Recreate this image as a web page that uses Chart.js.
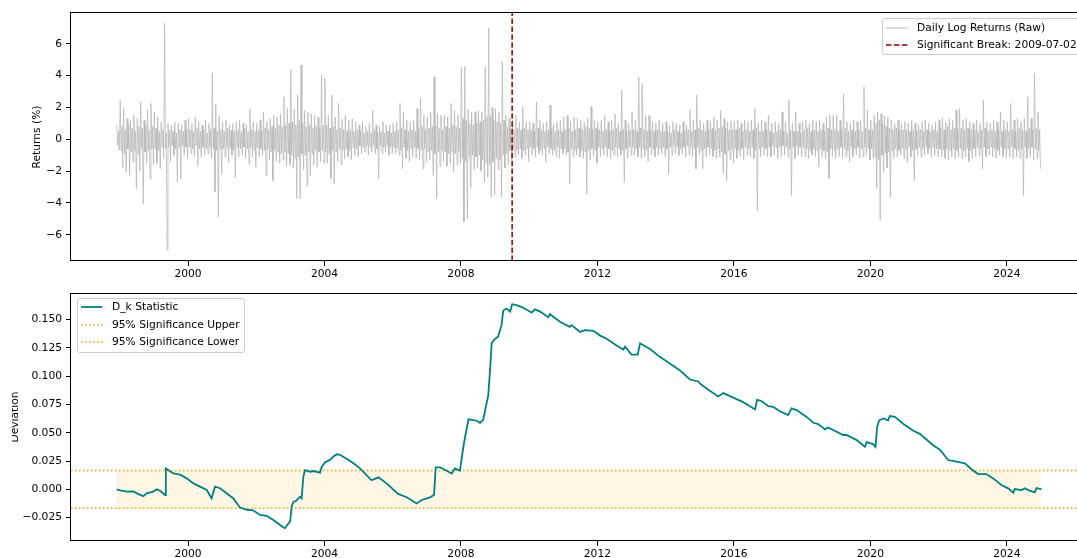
<!DOCTYPE html>
<html>
<head>
<meta charset="utf-8">
<script src="https://cdn.jsdelivr.net/npm/chart.js@4.4.1/dist/chart.umd.min.js"></script>
<style>
html,body{margin:0;padding:0;background:#fff;}
#wrap{position:relative;width:1077px;height:558px;overflow:hidden;font-family:'DejaVu Sans',sans-serif;color:#000;}
#wrap canvas{position:absolute;left:0;}
.ylab{position:absolute;transform:translate(-50%,-50%) rotate(-90deg);font-size:10.7px;line-height:12px;white-space:nowrap;}
.clip{position:absolute;overflow:hidden;}
.legend{position:absolute;background:rgba(255,255,255,0.8);border:1px solid #cccccc;border-radius:3px;box-sizing:border-box;}
.litem{position:absolute;font-size:10.7px;line-height:12px;white-space:nowrap;}
.lsample{position:absolute;}
</style>
</head>
<body>
<div id="wrap">
  <canvas id="topChart" width="1100" height="280" style="top:0;width:1100px;height:280px;"></canvas>
  <canvas id="botChart" width="1100" height="278" style="top:280px;width:1100px;height:278px;"></canvas>
  <div class="ylab" id="ylabTop" style="left:36.9px;top:136.5px;">Returns (%)</div>
  <div class="clip" style="left:12px;top:360px;width:30px;height:120px;">
    <div class="ylab" id="ylabBot" style="left:3.3px;top:57px;">Deviation</div>
  </div>
</div>
<script>
// ---------------- data ----------------
const xTicks = [2000, 2004, 2008, 2012, 2016, 2020, 2024];
const retTicks = [-6, -4, -2, 0, 2, 4, 6];
const devTicks = [-0.025, 0, 0.025, 0.05, 0.075, 0.1, 0.125, 0.15];

const breakDate = '2009-07-02';
const breakYear = 2009.50;
const sigUpper = 0.0167;
const sigLower = -0.0167;

// daily log returns (%), read per 0.1-year bin (first bin starts 1997.9):
// retHi / retLo = largest up / down move in the bin, retHi2 / retLo2 = edge of the dense band in the bin
const retStartYear = 1997.9;
const retBinYears = 0.1;
const retHi = [
  0.9,
  2.46, 1.93, 1.3, 1.2, 1.5, 1.3, 2.35, 1.2, 1.83, 2.25,
  1.72, 1.4, 1.1, 7.3, 1.0, 0.9, 1.1, 1.0, 0.9, 1.2,
  1.3, 1.0, 1.4, 1.1, 0.9, 1.2, 1.0, 4.14, 2.2, 1.5,
  1.1, 1.2, 0.9, 1.0, 1.1, 1.2, 1.0, 0.9, 1.9, 1.1,
  1.0, 1.2, 1.7, 1.1, 1.3, 1.5, 1.4, 1.6, 2.67, 1.93,
  4.35, 1.9, 2.78, 4.67, 1.8, 1.7, 1.6, 1.5, 1.4, 4.04,
  3.83, 1.5, 2.78, 1.4, 2.25, 1.3, 1.5, 1.2, 1.3, 1.1,
  0.9, 1.1, 0.8, 1.0, 1.83, 0.9, 0.8, 1.1, 0.9, 0.9,
  1.0, 1.1, 2.25, 1.72, 1.2, 1.1, 1.2, 1.93, 2.57, 1.5,
  1.4, 1.72, 3.93, 1.6, 1.5, 1.5, 1.4, 2.25, 1.83, 1.5,
  4.56, 4.56, 1.9, 1.7, 1.72, 1.8, 1.72, 4.56, 6.98, 2.0,
  1.93, 1.7, 4.88, 1.5, 1.3, 1.2, 1.5, 1.1, 2.04, 1.1,
  1.1, 1.0, 2.35, 1.2, 1.0, 1.1, 2.15, 1.0, 1.1, 1.2,
  1.4, 1.5, 1.1, 1.4, 1.3, 1.2, 1.1, 1.3, 2.04, 1.2,
  1.1, 1.2, 1.5, 1.1, 1.2, 1.6, 1.0, 3.09, 1.2, 1.0,
  1.72, 1.2, 3.93, 3.5, 1.5, 1.5, 1.1, 1.0, 1.2, 1.0,
  1.1, 0.9, 1.1, 1.0, 0.9, 1.1, 0.9, 1.83, 1.2, 2.78,
  1.2, 1.0, 1.2, 1.1, 1.4, 1.2, 1.83, 1.3, 1.1, 1.1,
  1.1, 1.2, 1.0, 1.2, 1.1, 1.2, 1.93, 1.0, 1.2, 1.1,
  1.5, 1.0, 1.1, 1.0, 1.72, 1.1, 2.46, 1.0, 1.72, 1.0,
  1.1, 1.2, 1.0, 1.2, 1.1, 1.2, 1.0, 1.4, 1.5, 1.5,
  1.5, 1.2, 2.88, 1.1, 1.0, 1.2, 1.1, 1.2, 3.3, 1.83,
  1.2, 1.5, 1.72, 1.6, 1.5, 1.4, 1.2, 1.0, 1.2, 1.0,
  1.1, 1.0, 1.2, 1.0, 0.9, 1.1, 1.2, 1.0, 0.9, 1.1,
  1.2, 1.3, 1.1, 1.3, 1.2, 1.83, 1.93, 1.2, 1.3, 1.1,
  1.0, 1.2, 1.0, 2.46, 1.1, 1.0, 1.2, 1.1, 1.72, 1.2,
  1.1, 2.25, 1.2, 1.3, 1.1, 1.3, 2.67, 1.3, 4.14, 1.73
];
const retLo = [
  -0.7,
  -1.75, -2.06, -2.27, -1.4, -3.1, -2.0, -4.06, -1.5, -2.5, -1.6,
  -1.5, -1.85, -1.2, -6.95, -1.4, -1.0, -2.7, -2.5, -1.0, -1.2,
  -0.9, -1.1, -1.65, -1.1, -1.0, -0.9, -1.2, -3.3, -4.9, -2.2,
  -1.1, -1.4, -1.0, -2.4, -1.1, -1.0, -1.2, -1.55, -1.1, -1.75,
  -1.1, -1.0, -2.3, -1.3, -2.6, -1.4, -1.5, -1.3, -1.7, -1.6,
  -1.8, -3.74, -3.74, -1.9, -2.9, -2.28, -1.6, -1.74, -1.4, -1.5,
  -1.5, -2.48, -2.8, -1.4, -1.6, -1.2, -1.1, -1.3, -1.0, -1.1,
  -0.9, -0.8, -1.0, -0.8, -0.9, -2.48, -0.9, -0.8, -1.0, -0.9,
  -0.9, -1.0, -1.85, -1.2, -1.4, -1.1, -1.2, -1.3, -1.85, -1.4,
  -1.3, -2.27, -3.74, -1.7, -1.4, -1.7, -1.5, -2.06, -1.6, -1.5,
  -5.2, -5.0, -3.1, -1.9, -1.8, -2.0, -2.7, -2.4, -3.64, -3.5,
  -1.9, -3.64, -1.8, -1.6, -1.3, -1.1, -1.0, -1.2, -1.0, -1.4,
  -1.0, -1.1, -0.9, -1.0, -1.4, -0.9, -1.0, -1.1, -1.2, -0.9,
  -1.0, -2.8, -1.1, -1.0, -1.1, -1.2, -3.43, -1.3, -1.1, -1.5,
  -1.1, -1.0, -1.1, -1.2, -1.0, -1.1, -1.0, -2.7, -1.2, -1.0,
  -1.0, -1.1, -1.2, -1.1, -1.4, -1.0, -1.1, -1.0, -0.9, -1.1,
  -2.17, -1.0, -0.9, -1.0, -0.9, -1.1, -1.0, -1.1, -1.85, -1.0,
  -1.85, -1.1, -1.0, -1.1, -1.2, -1.1, -2.17, -2.6, -1.3, -1.5,
  -1.2, -1.1, -1.3, -1.0, -1.1, -1.2, -4.48, -1.1, -1.0, -1.1,
  -1.1, -1.0, -1.2, -1.1, -1.0, -1.1, -3.53, -1.2, -1.0, -1.1,
  -1.1, -1.2, -1.0, -1.1, -1.74, -1.1, -1.2, -2.48, -1.1, -1.2,
  -1.1, -1.2, -1.1, -1.4, -1.1, -1.0, -1.2, -1.1, -1.0, -1.3,
  -1.2, -3.1, -5.1, -2.06, -1.8, -3.64, -1.2, -1.1, -1.0, -1.2,
  -1.4, -1.1, -2.6, -1.0, -1.1, -1.0, -0.9, -1.1, -1.0, -1.1,
  -1.1, -1.2, -1.3, -1.1, -1.2, -1.1, -1.2, -1.1, -1.4, -1.2,
  -1.1, -1.0, -1.85, -1.1, -1.0, -1.1, -1.2, -1.0, -1.1, -1.2,
  -1.1, -1.2, -1.1, -1.2, -3.53, -1.2, -1.1, -1.3, -1.2, -1.85
];
const retHi2 = [
  0.5,
  0.8, 0.6, 0.9, 0.7, 0.5, 0.8, 0.7, 0.9, 0.6, 0.8,
  0.7, 0.5, 0.6, 0.4, 0.6, 0.5, 0.4, 0.6, 0.5, 0.6,
  0.6, 0.5, 0.7, 0.5, 0.6, 0.4, 0.6, 0.7, 0.5, 0.6,
  0.5, 0.7, 0.6, 0.5, 0.6, 0.5, 0.7, 0.5, 0.6, 0.5,
  0.6, 0.5, 0.7, 0.6, 0.8, 0.7, 0.9, 0.8, 0.9, 1.0,
  1.1, 0.9, 1.2, 1.0, 0.8, 0.9, 0.7, 0.8, 0.7, 0.9,
  0.9, 0.7, 0.8, 0.6, 0.7, 0.6, 0.5, 0.6, 0.5, 0.6,
  0.5, 0.4, 0.5, 0.4, 0.6, 0.4, 0.5, 0.4, 0.5, 0.4,
  0.5, 0.6, 0.7, 0.6, 0.5, 0.6, 0.5, 0.7, 0.8, 0.6,
  0.7, 0.8, 0.9, 0.7, 0.6, 0.8, 0.7, 0.9, 0.8, 0.7,
  1.3, 1.2, 1.0, 0.9, 1.0, 1.1, 1.2, 1.4, 1.5, 1.2,
  1.1, 1.0, 1.2, 0.8, 0.7, 0.6, 0.7, 0.6, 0.7, 0.6,
  0.6, 0.5, 0.7, 0.6, 0.5, 0.6, 0.7, 0.5, 0.6, 0.5,
  0.6, 0.7, 0.5, 0.6, 0.7, 0.6, 0.8, 0.7, 0.6, 0.7,
  0.6, 0.5, 0.6, 0.5, 0.6, 0.7, 0.5, 0.6, 0.5, 0.6,
  0.6, 0.5, 0.7, 0.6, 0.5, 0.6, 0.5, 0.6, 0.5, 0.5,
  0.5, 0.4, 0.6, 0.5, 0.4, 0.5, 0.6, 0.5, 0.6, 0.7,
  0.6, 0.5, 0.6, 0.7, 0.6, 0.7, 0.8, 0.7, 0.6, 0.6,
  0.6, 0.7, 0.5, 0.6, 0.5, 0.6, 0.7, 0.5, 0.5, 0.6,
  0.5, 0.4, 0.5, 0.6, 0.5, 0.4, 0.6, 0.5, 0.5, 0.4,
  0.6, 0.7, 0.5, 0.6, 0.5, 0.6, 0.5, 0.7, 0.6, 0.6,
  0.5, 0.6, 0.7, 0.5, 0.6, 0.5, 0.6, 0.5, 0.7, 0.6,
  0.6, 1.0, 1.2, 1.0, 0.8, 0.7, 0.6, 0.7, 0.6, 0.6,
  0.6, 0.5, 0.6, 0.5, 0.6, 0.5, 0.6, 0.5, 0.6, 0.5,
  0.7, 0.6, 0.8, 0.6, 0.7, 0.6, 0.7, 0.6, 0.7, 0.6,
  0.6, 0.5, 0.6, 0.7, 0.5, 0.6, 0.5, 0.6, 0.5, 0.6,
  0.5, 0.6, 0.5, 0.7, 0.6, 0.5, 0.7, 0.6, 0.7, 0.6
];
const retLo2 = [
  -0.4,
  -0.7, -0.9, -0.6, -0.8, -0.7, -0.9, -0.6, -0.8, -0.7, -0.6,
  -0.6, -0.7, -0.5, -0.6, -0.5, -0.4, -0.6, -0.5, -0.4, -0.5,
  -0.5, -0.6, -0.4, -0.6, -0.5, -0.6, -0.5, -0.6, -0.7, -0.6,
  -0.6, -0.5, -0.6, -0.7, -0.5, -0.6, -0.5, -0.6, -0.5, -0.7,
  -0.5, -0.6, -0.7, -0.6, -0.8, -0.7, -0.8, -0.9, -0.8, -0.9,
  -1.0, -1.2, -1.1, -0.9, -1.0, -0.8, -0.9, -0.7, -0.8, -0.7,
  -0.8, -0.9, -0.7, -0.8, -0.6, -0.7, -0.6, -0.7, -0.5, -0.6,
  -0.4, -0.5, -0.4, -0.5, -0.4, -0.6, -0.4, -0.5, -0.4, -0.5,
  -0.5, -0.6, -0.7, -0.5, -0.7, -0.6, -0.5, -0.6, -0.7, -0.6,
  -0.8, -0.7, -0.9, -0.8, -0.7, -0.8, -0.9, -0.8, -0.9, -0.8,
  -1.2, -1.4, -1.1, -1.0, -1.1, -1.0, -1.3, -1.5, -1.6, -1.4,
  -1.2, -1.3, -1.0, -0.9, -0.7, -0.6, -0.7, -0.6, -0.7, -0.6,
  -0.5, -0.6, -0.5, -0.7, -0.6, -0.5, -0.6, -0.7, -0.5, -0.6,
  -0.6, -0.8, -0.6, -0.7, -0.6, -0.7, -0.8, -0.7, -0.6, -0.7,
  -0.5, -0.6, -0.5, -0.6, -0.7, -0.5, -0.6, -0.7, -0.6, -0.5,
  -0.5, -0.6, -0.5, -0.6, -0.7, -0.5, -0.6, -0.5, -0.6, -0.5,
  -0.6, -0.5, -0.4, -0.5, -0.6, -0.5, -0.4, -0.5, -0.6, -0.5,
  -0.7, -0.6, -0.5, -0.6, -0.7, -0.6, -0.8, -0.9, -0.7, -0.6,
  -0.6, -0.7, -0.6, -0.5, -0.6, -0.5, -0.7, -0.6, -0.5, -0.6,
  -0.5, -0.4, -0.5, -0.5, -0.4, -0.5, -0.6, -0.5, -0.4, -0.5,
  -0.5, -0.6, -0.7, -0.6, -0.7, -0.6, -0.7, -0.8, -0.6, -0.7,
  -0.6, -0.5, -0.6, -0.7, -0.5, -0.6, -0.5, -0.6, -0.5, -0.6,
  -0.6, -1.1, -1.3, -1.0, -0.9, -0.8, -0.7, -0.6, -0.7, -0.6,
  -0.6, -0.5, -0.7, -0.6, -0.5, -0.6, -0.5, -0.6, -0.5, -0.6,
  -0.6, -0.7, -0.6, -0.7, -0.6, -0.7, -0.6, -0.7, -0.6, -0.7,
  -0.6, -0.5, -0.6, -0.5, -0.6, -0.5, -0.6, -0.7, -0.5, -0.6,
  -0.6, -0.5, -0.6, -0.7, -0.6, -0.5, -0.6, -0.5, -0.6, -0.7
];

// D_k statistic
const dkYears = [
  1997.91, 1998.01, 1998.20, 1998.40, 1998.50, 1998.69, 1998.79, 1998.98, 1999.08, 1999.18,
  1999.33, 1999.35, 1999.57, 1999.77, 1999.96, 2000.16, 2000.35, 2000.55, 2000.69, 2000.79,
  2000.94, 2001.13, 2001.33, 2001.52, 2001.72, 2001.91, 2002.11, 2002.31, 2002.50, 2002.70,
  2002.84, 2002.91, 2002.99, 2003.04, 2003.09, 2003.18, 2003.28, 2003.33, 2003.38, 2003.43,
  2003.58, 2003.67, 2003.87, 2003.92, 2004.02, 2004.16, 2004.26, 2004.36, 2004.45, 2004.65,
  2004.85, 2005.04, 2005.38, 2005.58, 2005.82, 2006.16, 2006.41, 2006.70, 2006.85, 2007.09,
  2007.21, 2007.26, 2007.39, 2007.58, 2007.73, 2007.82, 2007.97, 2008.07, 2008.12, 2008.22,
  2008.36, 2008.46, 2008.56, 2008.65, 2008.72, 2008.80, 2008.85, 2008.90, 2008.97, 2009.09,
  2009.19, 2009.24, 2009.34, 2009.44, 2009.50, 2009.63, 2009.78, 2009.92, 2010.07, 2010.17,
  2010.32, 2010.56, 2010.61, 2010.90, 2011.19, 2011.24, 2011.49, 2011.63, 2011.88, 2012.07,
  2012.27, 2012.56, 2012.76, 2012.81, 2013.00, 2013.18, 2013.25, 2013.54, 2013.83, 2014.13,
  2014.42, 2014.71, 2014.96, 2015.00, 2015.20, 2015.54, 2015.69, 2015.98, 2016.27, 2016.62,
  2016.68, 2016.81, 2017.01, 2017.15, 2017.35, 2017.59, 2017.69, 2017.84, 2018.13, 2018.33,
  2018.47, 2018.67, 2018.76, 2018.91, 2019.20, 2019.30, 2019.60, 2019.84, 2019.89, 2020.08,
  2020.15, 2020.20, 2020.26, 2020.38, 2020.52, 2020.57, 2020.72, 2020.96, 2021.26, 2021.45,
  2021.84, 2022.04, 2022.28, 2022.53, 2022.77, 2022.97, 2023.16, 2023.40, 2023.60, 2023.84,
  2024.04, 2024.19, 2024.23, 2024.43, 2024.53, 2024.67, 2024.82, 2024.87, 2025.02
];
const dkValues = [
  0.000, -0.001, -0.002, -0.0018, -0.0035, -0.006, -0.0035, -0.002, 0.000, -0.0012,
  -0.005, 0.0185, 0.014, 0.013, 0.0097, 0.0053, 0.0024, -0.0006, -0.008, 0.0024,
  0.001, -0.0035, -0.008, -0.016, -0.018, -0.0185, -0.0226, -0.0235, -0.027, -0.0315,
  -0.0344, -0.0315, -0.0285, -0.015, -0.011, -0.0098, -0.0065, -0.008, 0.011, 0.017,
  0.0156, 0.0162, 0.0147, 0.020, 0.024, 0.026, 0.029, 0.031, 0.0305, 0.027,
  0.023, 0.0185, 0.008, 0.0106, 0.0053, -0.004, -0.007, -0.0124, -0.0094, -0.0071,
  -0.005, 0.0194, 0.0194, 0.0165, 0.014, 0.0185, 0.0165, 0.0376, 0.046, 0.0618,
  0.0612, 0.0606, 0.0588, 0.0612, 0.0715, 0.083, 0.104, 0.129, 0.132, 0.135,
  0.145, 0.158, 0.1597, 0.157, 0.1635, 0.1626, 0.161, 0.1588, 0.156, 0.159,
  0.157, 0.152, 0.1547, 0.148, 0.1435, 0.145, 0.139, 0.1406, 0.140, 0.136,
  0.133, 0.127, 0.1235, 0.126, 0.119, 0.119, 0.129, 0.124, 0.117, 0.111,
  0.105, 0.097, 0.0953, 0.0935, 0.089, 0.082, 0.085, 0.081, 0.077, 0.0706,
  0.079, 0.078, 0.0735, 0.0729, 0.069, 0.0656, 0.0715, 0.070, 0.064, 0.0588,
  0.0576, 0.053, 0.0547, 0.0524, 0.048, 0.048, 0.0435, 0.0376, 0.0418, 0.040,
  0.0376, 0.0553, 0.061, 0.0626, 0.061, 0.0647, 0.0641, 0.058, 0.0518, 0.049,
  0.039, 0.035, 0.0259, 0.0244, 0.023, 0.0176, 0.0135, 0.0135, 0.0097, 0.0038,
  0.0009, -0.003, 0.0003, -0.0006, 0.0009, -0.0012, -0.0026, 0.0012, 0.000
];

// ---------------- layout / styles ----------------
const xMin = 1996.57, xMax = 2026.35;
const retMin = -7.65, retMax = 8.0;
const devMin = -0.0456, devMax = 0.1734;
const FONT = 'DejaVu Sans';
const FS = 10.7;
const RET_COLOR = '#b6b6b6';

Chart.defaults.font.family = FONT;
Chart.defaults.font.size = FS;
Chart.defaults.color = '#000';

// table for the returns line: each bin gives its high, band low, band high, and its low
const retPoints = [];
retHi.forEach((h, i) => {
  const t = retStartYear + i * retBinYears;
  retPoints.push({x: t + retBinYears * 0.125, y: h});
  retPoints.push({x: t + retBinYears * 0.375, y: retLo2[i]});
  retPoints.push({x: t + retBinYears * 0.625, y: retHi2[i]});
  retPoints.push({x: t + retBinYears * 0.875, y: retLo[i]});
});
const dkPoints = dkYears.map((t, i) => ({x: t, y: dkValues[i]}));

const minus = s => s.replace('-', '\u2212');

const framePlugin = {
  id: 'frame',
  afterDraw(chart) {
    const {ctx, chartArea: a} = chart;
    ctx.save();
    ctx.strokeStyle = '#000';
    ctx.lineWidth = 1;
    const l = Math.round(a.left) - 0.5, t = Math.round(a.top) + 0.5;
    const r = Math.round(a.right) - 0.5, b = Math.round(a.bottom) - 0.5;
    ctx.strokeRect(l, t, r - l, b - t);
    ctx.restore();
  }
};

function axisX(height) {
  return {
    type: 'linear', min: xMin, max: xMax, bounds: 'data',
    afterBuildTicks: s => { s.ticks = xTicks.map(v => ({value: v})); },
    afterFit: s => { s.height = height; },
    grid: {display: true, drawOnChartArea: false, drawTicks: true, tickLength: 5, color: '#000', tickWidth: 1},
    border: {display: false},
    ticks: {callback: v => String(v), padding: 2, maxRotation: 0, autoSkip: false, color: '#000', font: {family: FONT, size: FS}}
  };
}
function axisY(min, max, tickVals, fmt) {
  return {
    type: 'linear', min: min, max: max, bounds: 'data',
    afterBuildTicks: s => { s.ticks = tickVals.map(v => ({value: v})); },
    afterFit: s => { s.width = 71; },
    grid: {display: true, drawOnChartArea: false, drawTicks: true, tickLength: 5, color: '#000', tickWidth: 1},
    border: {display: false},
    ticks: {callback: fmt, padding: 4, autoSkip: false, color: '#000', font: {family: FONT, size: FS}}
  };
}
const commonOpts = {
  responsive: false, animation: false, devicePixelRatio: 1,
  plugins: {legend: {display: false}, tooltip: {enabled: false}},
  elements: {point: {radius: 0}, line: {tension: 0}},
  events: []
};

new Chart(document.getElementById('topChart'), {
  type: 'line',
  data: {datasets: [
    {label: 'Significant Break: ' + breakDate, data: [{x: breakYear, y: retMin}, {x: breakYear, y: retMax}],
     borderColor: '#8b0000', borderWidth: 1.5, borderDash: [5.5, 2.4], pointRadius: 0, fill: false},
    {label: 'Daily Log Returns (Raw)', data: retPoints,
     borderColor: RET_COLOR, borderWidth: 0.75, pointRadius: 0, fill: false}
  ]},
  options: Object.assign({}, commonOpts, {
    layout: {padding: {top: 12, right: 13, bottom: 0, left: 0}},
    scales: {
      x: axisX(19),
      y: axisY(retMin, retMax, retTicks, v => minus(String(v)))
    }
  }),
  plugins: [framePlugin]
});

new Chart(document.getElementById('botChart'), {
  type: 'line',
  data: {datasets: [
    {label: 'D_k Statistic', data: dkPoints, borderColor: '#008080', borderWidth: 1.8, pointRadius: 0, fill: false},
    {label: '95% Significance Upper', data: [{x: xMin, y: sigUpper}, {x: xMax, y: sigUpper}],
     borderColor: '#ffa500', borderWidth: 1.5, borderDash: [1.5, 2.5], borderCapStyle: 'butt', pointRadius: 0, fill: false},
    {label: '95% Significance Lower', data: [{x: xMin, y: sigLower}, {x: xMax, y: sigLower}],
     borderColor: '#ffa500', borderWidth: 1.5, borderDash: [1.5, 2.5], borderCapStyle: 'butt', pointRadius: 0, fill: false},
    {label: 'band upper', data: [{x: dkYears[0], y: sigUpper}, {x: dkYears[dkYears.length - 1], y: sigUpper}],
     borderWidth: 0, borderColor: 'rgba(0,0,0,0)', backgroundColor: 'rgba(255,165,0,0.1)', fill: '+1', pointRadius: 0},
    {label: 'band lower', data: [{x: dkYears[0], y: sigLower}, {x: dkYears[dkYears.length - 1], y: sigLower}],
     borderWidth: 0, borderColor: 'rgba(0,0,0,0)', fill: false, pointRadius: 0}
  ]},
  options: Object.assign({}, commonOpts, {
    layout: {padding: {top: 13, right: 13, bottom: 0, left: 0}},
    scales: {
      x: axisX(17),
      y: axisY(devMin, devMax, devTicks, v => minus(Number(v).toFixed(3)))
    }
  }),
  plugins: [framePlugin]
});

// ---------------- legends (matplotlib style, inside axes) ----------------
const topLegendItems = [
  {label: 'Daily Log Returns (Raw)', color: RET_COLOR, width: 1, dash: ''},
  {label: 'Significant Break: ' + breakDate, color: '#8b0000', width: 1.5, dash: '5.5,2.4'}
];
const botLegendItems = [
  {label: 'D_k Statistic', color: '#008080', width: 1.8, dash: ''},
  {label: '95% Significance Upper', color: '#ffa500', width: 1.5, dash: '1.5,2.5'},
  {label: '95% Significance Lower', color: '#ffa500', width: 1.5, dash: '1.5,2.5'}
];
function buildLegend(items, box) {
  const wrap = document.getElementById('wrap');
  const lg = document.createElement('div');
  lg.className = 'legend';
  lg.style.left = box.left + 'px'; lg.style.top = box.top + 'px';
  lg.style.width = box.width + 'px'; lg.style.height = box.height + 'px';
  wrap.appendChild(lg);
  items.forEach((it, i) => {
    const cy = box.top + box.first + i * 17.5;
    const svgNS = 'http://www.w3.org/2000/svg';
    const svg = document.createElementNS(svgNS, 'svg');
    svg.setAttribute('class', 'lsample');
    svg.setAttribute('width', '22'); svg.setAttribute('height', '6');
    svg.style.left = (box.left + 4) + 'px'; svg.style.top = (cy - 3) + 'px';
    const ln = document.createElementNS(svgNS, 'line');
    ln.setAttribute('x1', '0'); ln.setAttribute('x2', '21.5');
    ln.setAttribute('y1', '3'); ln.setAttribute('y2', '3');
    ln.setAttribute('stroke', it.color); ln.setAttribute('stroke-width', it.width);
    if (it.dash) ln.setAttribute('stroke-dasharray', it.dash);
    svg.appendChild(ln);
    wrap.appendChild(svg);
    const tx = document.createElement('div');
    tx.className = 'litem';
    tx.textContent = it.label;
    tx.style.left = (box.left + 35) + 'px'; tx.style.top = (cy - 6) + 'px';
    wrap.appendChild(tx);
  });
}
buildLegend(topLegendItems, {left: 882, top: 18, width: 215, height: 37, first: 9.5});
buildLegend(botLegendItems, {left: 77, top: 298, width: 168, height: 55, first: 9.2});
</script>
</body>
</html>
